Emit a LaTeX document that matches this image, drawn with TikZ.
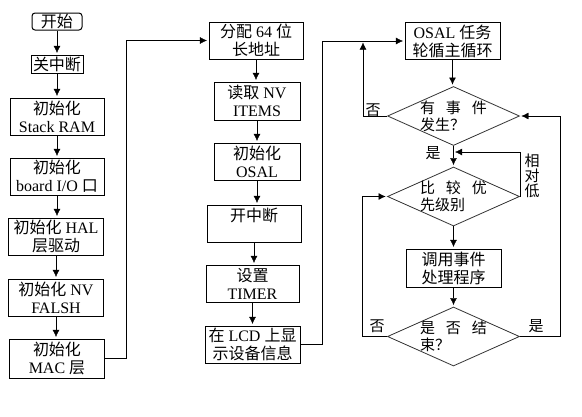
\documentclass[tikz,border=0pt]{standalone}
\usepackage{fontspec}
\setmainfont{Liberation Serif}
\newfontfamily\cjk{Noto Sans CJK SC}
\newcommand{\zh}[1]{{\cjk #1}}
\usetikzlibrary{arrows.meta, shapes.geometric}

\begin{document}
\begin{tikzpicture}[x=1pt, y=-1pt]
	\tikzset{>={Latex[length=9pt,width=8.5pt]}, line width=1.3pt,
		box/.style={draw, rectangle, line width=1pt, inner sep=0pt, align=center, font=\fontsize{16}{18}\selectfont},
		dec/.style={draw=black!80, diamond, line width=0.8pt, inner sep=-3pt, aspect=2.2, minimum width=132, minimum height=59, align=left, font=\cjk\fontsize{15}{17}\selectfont},
		lbl/.style={inner sep=0pt, align=center, font=\cjk\fontsize{15}{15}\selectfont}}

	\fill[white] (0,0) rectangle (582,416);
	\useasboundingbox (0,0) rectangle (582,416);

	% startup column
	\node[box, rounded corners=3pt, minimum width=50, minimum height=17] (start) at (57,21.5) {\zh{开始}};
	\node[box, minimum width=52, minimum height=18] (cli) at (57,64) {\zh{关中断}};
	\node[box, minimum width=94, minimum height=37] (stk) at (57,116.5) {\zh{初始化}\\Stack RAM};
	\node[box, minimum width=94, minimum height=37] (brd) at (57,176.5) {\zh{初始化}\\board I/O \zh{口}};
	\node[box, minimum width=95, minimum height=37] (hal) at (56,236.5) {\zh{初始化} HAL\\\zh{层驱动}};
	\node[box, minimum width=95, minimum height=37] (nv) at (56,297.5) {\zh{初始化} NV\\FALSH};
	\node[box, minimum width=95, minimum height=39] (mac) at (57,358.5) {\zh{初始化}\\MAC \zh{层}};

	% second column
	\node[box, minimum width=94, minimum height=37] (addr) at (256,40.5) {\zh{分配} 64 \zh{位}\\\zh{长地址}};
	\node[box, minimum width=86, minimum height=38] (item) at (257,101) {\zh{读取} NV\\ITEMS};
	\node[box, minimum width=86, minimum height=37] (osal) at (257,161.5) {\zh{初始化}\\OSAL};
	\node[box, minimum width=94, minimum height=37] (sti) at (254,223.5) {\zh{开中断}\\~};
	\node[box, minimum width=93, minimum height=37] (tmr) at (252.5,283.5) {\zh{设置}\\TIMER};
	\node[box, minimum width=95, minimum height=37] (lcd) at (252.5,344.5) {\zh{在} LCD \zh{上显}\\\zh{示设备信息}};

	% main loop
	\node[box, minimum width=95, minimum height=37] (loop) at (452.5,41) {OSAL \zh{任务}\\\zh{轮循主循环}};
	\node[dec] (d1) at (453.5,116) {有\hspace{11pt}事\hspace{11pt}件\\发生？};
	\node[dec] (d2) at (453.5,196.5) {比\hspace{11pt}较\hspace{11pt}优\\先级别};
	\node[box, minimum width=95, minimum height=38, font=\cjk\fontsize{16}{18}\selectfont] (call) at (453.5,268) {调用事件\\处理程序};
	\node[dec] (d3) at (453.5,336.5) {是\hspace{11pt}否\hspace{11pt}结\\束？};

	\coordinate (j1) at (363,41);
	\coordinate (m1) at (453.5,152);

	\foreach \a/\b in {start/cli, cli/stk, stk/brd, brd/hal, hal/nv, nv/mac,
		addr/item, item/osal, osal/sti, sti/tmr, tmr/lcd, loop/d1, d2/call, call/d3}
		\draw[->] (\a.south) -- (\a.south |- \b.north);
	\draw[->] (d1.south) -- (d2.north);

	\draw[->] (mac.east) -- ++(21,0) |- (addr.west);
	\draw[->] (lcd.east) -- ++(22,0) |- (loop.west);
	\draw[->] (d1.west) -| (j1);
	\draw[->] (d2.east) |- (m1);
	\draw[->] (d3.west) -- ++(-25,0) |- (d2.west);
	\draw[->] (d3.east) -- ++(40,0) |- (d1.east);

	\node[lbl] (no1) at (373,110) {否};
	\node[lbl] (yes1) at (433,153) {是};
	\node[lbl] (low) at (532,176) {相\\对\\低};
	\node[lbl] (no2) at (377,326) {否};
	\node[lbl] (yes2) at (536,326) {是};
\end{tikzpicture}
\end{document}
